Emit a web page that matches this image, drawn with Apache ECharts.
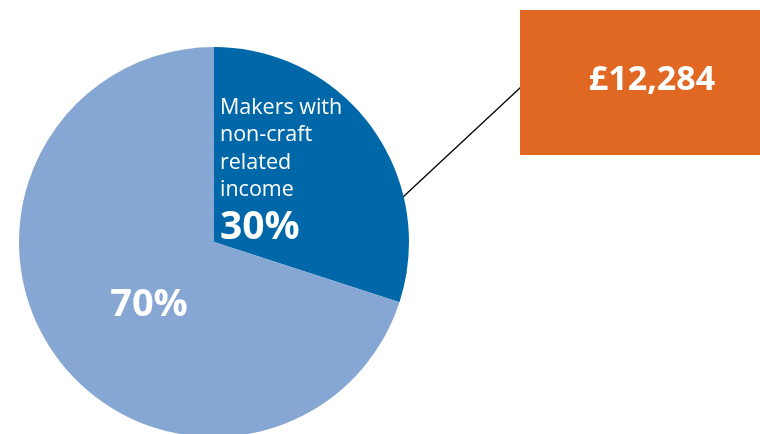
<!DOCTYPE html>
<html><head><meta charset="utf-8">
<script src="https://cdn.jsdelivr.net/npm/echarts@6/dist/echarts.min.js"></script>
<style>html,body{margin:0;padding:0;background:#fff}#c{width:760px;height:434px}</style>
</head><body><div id="c"></div>
<script>
var categories = ['Makers with non-craft related income', 'Other makers'];
var values = [30, 70];
var labelTexts = ['Makers with\nnon-craft\nrelated\nincome', ''];
var calloutValue = '£12,284';

var colors = ['#0068A9', '#86A7D3'];
var chart = echarts.init(document.getElementById('c'), null, {renderer: 'canvas'});
chart.setOption({
  animation: false,
  series: [{
    type: 'pie',
    center: [214, 242],
    radius: 195,
    startAngle: 90,
    clockwise: true,
    silent: true,
    data: categories.map(function (c, i) {
      return {
        name: c, value: values[i],
        itemStyle: {color: colors[i]},
        label: i === 0 ? {
          show: true, position: 'inside',
          formatter: function () { return '{t|' + labelTexts[0].split('\n').join('}\n{t|') + '}\n{p|' + values[0] + '%}'; },
          rich: {
            t: {color: '#fff', fontFamily: 'Open Sans', fontSize: 21.5, lineHeight: 27.5},
            p: {color: '#fff', fontFamily: 'Open Sans', fontWeight: 'bold', fontSize: 39, lineHeight: 48}
          },
          align: 'left'
        } : {
          show: true, position: 'inside',
          formatter: function () { return values[1] + '%'; },
          color: '#fff', fontFamily: 'Open Sans', fontWeight: 'bold', fontSize: 38
        }
      };
    }),
    labelLine: {show: false},
    labelLayout: function (p) {
      if (p.dataIndex === 0) {
        return {x: 220, y: 173, align: 'left', verticalAlign: 'middle'};
      }
      return {x: 149, y: 305, align: 'center', verticalAlign: 'middle'};
    }
  }],
  graphic: [
    {type: 'line', shape: {x1: 403, y1: 197, x2: 521, y2: 87}, style: {stroke: '#000', lineWidth: 1.3}},
    {type: 'rect', shape: {x: 520, y: 10, width: 240, height: 145}, style: {fill: '#E06823'}},
    {type: 'text', x: 652, y: 80, style: {text: calloutValue, fill: '#fff', font: 'bold 34px "Open Sans"', textAlign: 'center', textVerticalAlign: 'middle'}}
  ]
});
</script></body></html>
